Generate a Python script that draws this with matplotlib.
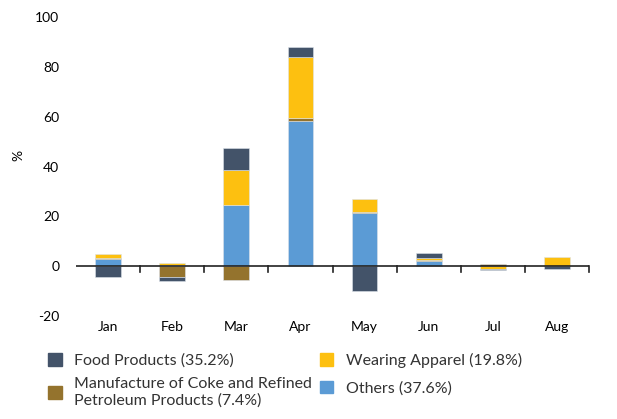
import numpy as np
import matplotlib
matplotlib.use("Agg")
import matplotlib.pyplot as plt
from matplotlib.patches import Patch

plt.rcParams['font.family'] = ['Lato', 'DejaVu Sans']
plt.rcParams['axes.unicode_minus'] = False

months = ["Jan", "Feb", "Mar", "Apr", "May", "Jun", "Jul", "Aug"]
others = [2.8, 0.6, 24.5, 58.4, 21.3, 2.0, 0.0, 0.0]
coke = [0.6, -4.5, -5.6, 1.2, 0.6, 0.3, 0.7, 0.0]
apparel = [1.3, 0.5, 14.3, 24.5, 5.0, 1.0, -1.0, 3.5]
food = [-4.5, -1.6, 8.8, 4.0, -9.8, 1.8, -0.4, -1.0]

series = [
    ("Others (37.6%)", others, "#5b9bd5"),
    ("Manufacture of Coke and Refined\nPetroleum Products (7.4%)", coke, "#94732d"),
    ("Wearing Apparel (19.8%)", apparel, "#fdc010"),
    ("Food Products (35.2%)", food, "#435369"),
]

fig = plt.figure(figsize=(6.17, 4.19), dpi=100)
ax = fig.add_axes([0.123, 0.246, 0.832, 0.713])

x = np.arange(len(months))
pos = np.zeros(len(months))
neg = np.zeros(len(months))
for name, vals, col in series:
    v = np.array(vals)
    bottom = np.where(v >= 0, pos, neg)
    ax.bar(x, v, 0.4, bottom=bottom, color=col, edgecolor="#dde3ea", linewidth=0.4, zorder=2)
    pos = pos + np.where(v >= 0, v, 0)
    neg = neg + np.where(v < 0, v, 0)

ax.set_xlim(-0.5, 7.5)
ax.set_ylim(-20, 100)
ax.set_yticks(range(-20, 101, 20))
ax.tick_params(axis='y', length=0, labelsize=10, pad=12)
ax.tick_params(axis='x', length=0, labelsize=10, pad=4)
ax.set_xticks(x)
ax.set_xticklabels(months)
for s in ["top", "right", "left", "bottom"]:
    ax.spines[s].set_visible(False)

# zero line with tick marks between categories
ax.axhline(0, color="#222222", linewidth=1.2, zorder=3)
for b in np.arange(0.5, 8.0, 1.0):
    ax.plot([b, b], [0, -2.5], color="#222222", linewidth=1.2, zorder=3, clip_on=False)

fig.text(0.03, 0.63, "%", rotation=90, fontsize=10, va="center", ha="center")

col1 = [series[3], series[1]]
col2 = [series[2], series[0]]
leg1 = fig.legend([Patch(color=c) for _, _, c in col1], [n for n, _, _ in col1],
                  loc="upper left", bbox_to_anchor=(0.078, 0.158), frameon=False,
                  fontsize=11.5, handlelength=0.85, handleheight=0.85,
                  handletextpad=0.8, labelspacing=0.6, borderaxespad=0, borderpad=0)
for t in leg1.get_texts():
    t.set_linespacing(1.15)
leg2 = fig.legend([Patch(color=c) for _, _, c in col2], [n for n, _, _ in col2],
                  loc="upper left", bbox_to_anchor=(0.518, 0.158), frameon=False,
                  fontsize=11.5, handlelength=0.85, handleheight=0.85,
                  handletextpad=0.8, labelspacing=0.8, borderaxespad=0, borderpad=0)
for leg in (leg1, leg2):
    for t in leg.get_texts():
        t.set_color("#333333")

fig.savefig("out.png", dpi=100)
